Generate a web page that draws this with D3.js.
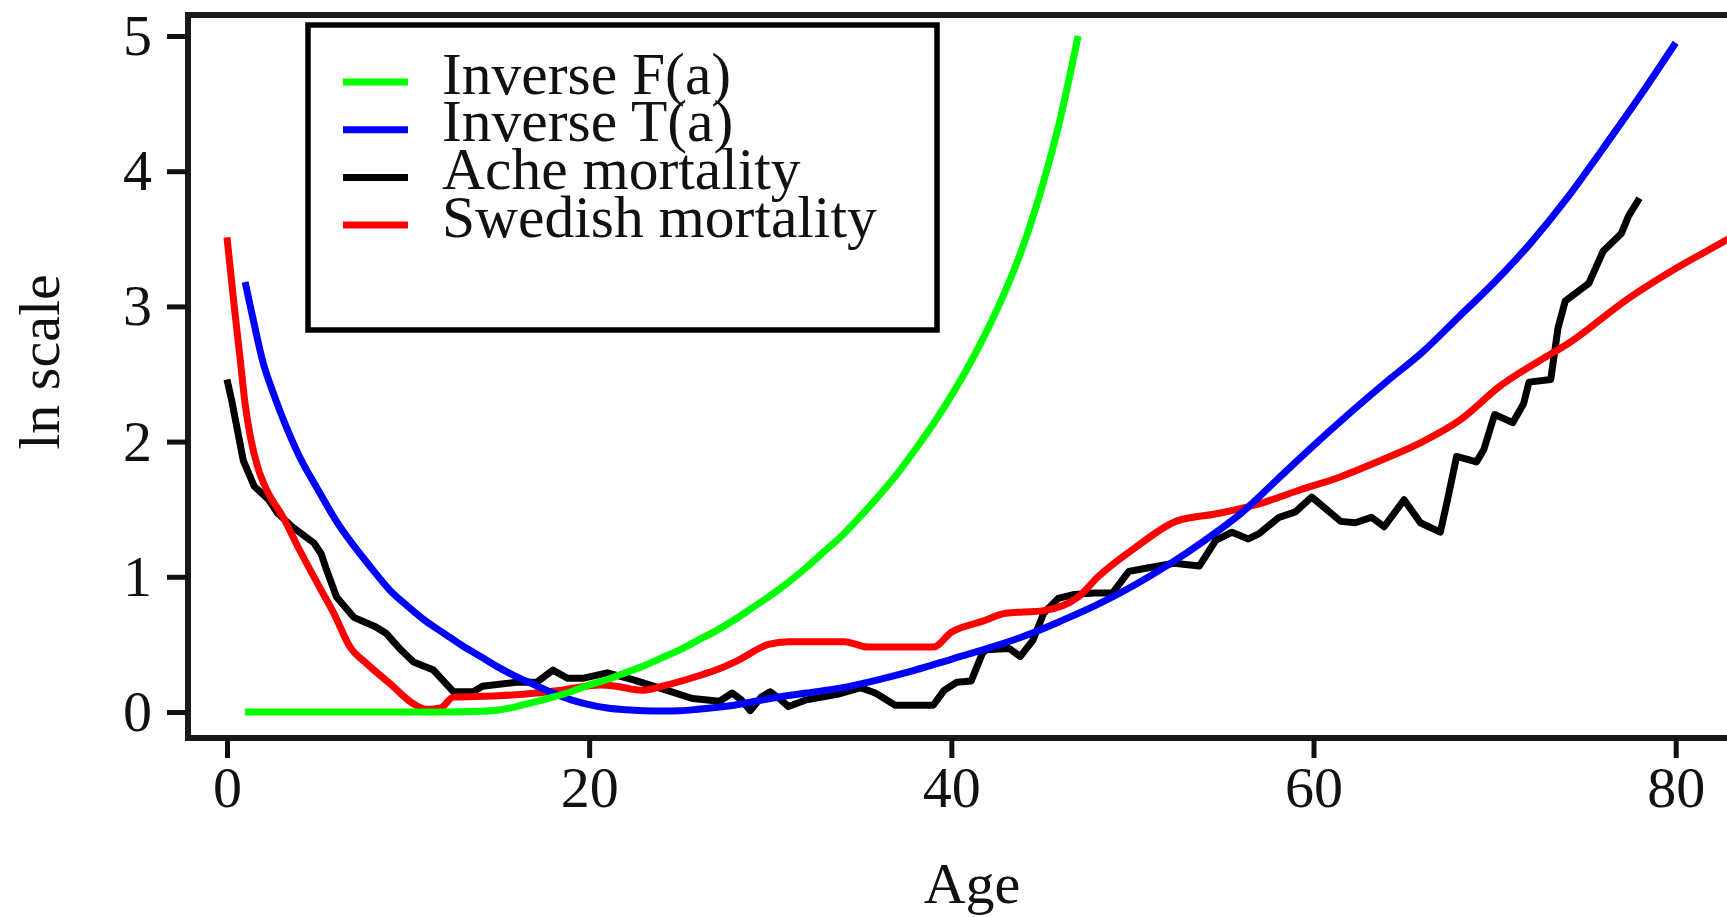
<!DOCTYPE html>
<html><head><meta charset="utf-8">
<script src="https://cdn.jsdelivr.net/npm/d3@7"></script>
<style>html,body{margin:0;padding:0;background:#fff;overflow:hidden}</style>
</head><body>
<svg id="chart" width="1727" height="917"></svg>
<script>
// ---- data ----
const xTicks = [0, 20, 40, 60, 80];
const yTicks = [0, 1, 2, 3, 4, 5];
const legendLabels = ["Inverse F(a)", "Inverse T(a)", "Ache mortality", "Swedish mortality"];
const legendColors = ["#00ff00", "#0000ff", "#000000", "#ff0000"];

const invFAge   = [1,5,10,12,14,15,16,17,18,19,20,21,22,23,24,25,26,27,28,29,30,31,32,33,34,35,36,37,38,39,40,41,42,43,44,45,46,47];
const invFValue = [0,0,0,0,0.005,0.015,0.04,0.075,0.11,0.15,0.2,0.24,0.29,0.34,0.4,0.46,0.53,0.6,0.68,0.77,0.86,0.96,1.07,1.19,1.31,1.45,1.6,1.76,1.94,2.13,2.34,2.57,2.83,3.12,3.46,3.88,4.38,5.0];

const invTAge   = [1,1.5,2,2.5,3,4,5,6,7,8,9,10,11,12,13,14,15,16,17,18,19,20,21,22,23,24,25,26,28,30,32,34,36,38,40,42,44,46,48,50,52,54,56,58,60,62,64,66,68,70,72,74,76,78,80];
const invTValue = [3.18,2.87,2.58,2.38,2.2,1.89,1.65,1.42,1.23,1.06,0.9,0.78,0.67,0.58,0.49,0.41,0.33,0.26,0.2,0.14,0.09,0.055,0.03,0.017,0.01,0.008,0.01,0.02,0.05,0.1,0.14,0.18,0.24,0.31,0.39,0.47,0.56,0.67,0.79,0.93,1.09,1.27,1.47,1.72,1.97,2.21,2.44,2.66,2.92,3.18,3.47,3.8,4.17,4.55,4.95];

const acheAge   = [0,0.25,0.9,1.5,2.3,2.8,3.6,4.8,5.2,5.5,6.05,7.0,8.2,8.8,9.6,10.3,11.4,12.5,13.6,14.1,16.0,17.1,18.0,18.8,19.7,21.0,22.4,24.3,25.7,27.2,27.9,28.4,28.9,29.5,30.0,30.5,31.0,32.0,33.7,35.0,35.8,36.9,39.0,39.6,40.3,41.1,41.7,41.9,43.2,43.8,44.5,45.1,45.9,46.8,47.9,48.9,49.8,50.6,52.3,53.7,54.6,55.5,56.4,57,58.1,59,59.9,61.5,62.3,63.2,63.9,65,65.9,67,67.4,67.9,69,69.4,70,71,71.6,71.9,73.1,73.5,73.9,75.2,76,77,77.4,78];
const acheValue = [2.46,2.31,1.86,1.67,1.57,1.47,1.37,1.25,1.17,1.05,0.85,0.70,0.63,0.58,0.46,0.37,0.31,0.15,0.15,0.19,0.22,0.22,0.31,0.25,0.25,0.29,0.24,0.16,0.1,0.08,0.14,0.09,0.01,0.11,0.15,0.1,0.04,0.09,0.13,0.18,0.14,0.05,0.05,0.16,0.22,0.23,0.43,0.46,0.47,0.41,0.53,0.73,0.84,0.87,0.88,0.88,1.04,1.06,1.1,1.08,1.27,1.33,1.28,1.32,1.44,1.48,1.59,1.41,1.40,1.44,1.37,1.57,1.40,1.33,1.57,1.89,1.85,1.94,2.2,2.14,2.28,2.44,2.46,2.84,3.04,3.17,3.41,3.54,3.67,3.8];

const sweAge   = [0,0.4,0.72,1,1.3,1.7,2.2,3.1,4,5,5.9,6.8,7.7,9,10.3,11,11.8,12.5,15,17.1,18.4,20.6,21.5,22.9,24,26.1,27,28.2,29.9,31,34.1,35.4,39,40,41.7,43,45.1,47,48.1,50.3,52.4,54.8,57,59.2,61.5,63.7,65.9,68.1,70.3,72.5,74,77.4,80,82.8,84.5];
const sweValue = [3.51,3.0,2.62,2.28,2.03,1.81,1.64,1.44,1.2,0.95,0.73,0.48,0.36,0.21,0.06,0.02,0.03,0.11,0.12,0.14,0.16,0.2,0.19,0.16,0.19,0.27,0.31,0.38,0.5,0.52,0.52,0.48,0.48,0.59,0.67,0.73,0.75,0.85,1.0,1.23,1.41,1.47,1.54,1.64,1.74,1.86,1.99,2.16,2.41,2.6,2.72,3.06,3.28,3.49,3.62];

// ---- drawing ----
const W = 1727, H = 917;
const font = "'Liberation Serif','Times New Roman',serif";
const plot = {left: 188, top: 15, right: 1754, bottom: 738};
const svg = d3.select("#chart");
svg.append("rect").attr("width", W).attr("height", H).attr("fill", "#fff");

const x = d3.scaleLinear().domain([0, 80]).range([227, 1675.7]);
const y = d3.scaleLinear().domain([0, 5]).range([712, 36]);

svg.append("defs").append("clipPath").attr("id", "clip")
  .append("rect").attr("x", plot.left).attr("y", plot.top)
  .attr("width", plot.right - plot.left).attr("height", plot.bottom - plot.top);

const zip = (a, v) => a.map((d, i) => [d, v[i]]);
const smooth = d3.line().x(d => x(d[0])).y(d => y(d[1])).curve(d3.curveMonotoneX);
const straight = d3.line().x(d => x(d[0])).y(d => y(d[1]));

const series = [
  {pts: zip(acheAge, acheValue), color: legendColors[2], gen: straight},
  {pts: zip(sweAge, sweValue), color: legendColors[3], gen: smooth},
  {pts: zip(invTAge, invTValue), color: legendColors[1], gen: smooth},
  {pts: zip(invFAge, invFValue), color: legendColors[0], gen: smooth}
];
const curves = svg.append("g").attr("clip-path", "url(#clip)");
series.forEach(s => {
  curves.append("path").attr("d", s.gen(s.pts)).attr("fill", "none")
    .attr("stroke", s.color).attr("stroke-width", 7)
    .attr("stroke-linejoin", "round").attr("stroke-linecap", "butt");
});

// box
svg.append("rect").attr("x", plot.left).attr("y", plot.top)
  .attr("width", plot.right - plot.left).attr("height", plot.bottom - plot.top)
  .attr("fill", "none").attr("stroke", "#1a1a1a").attr("stroke-width", 6);

// axes
const gx = svg.append("g").attr("transform", `translate(0,${plot.bottom})`)
  .call(d3.axisBottom(x).tickValues(xTicks).tickSize(20).tickPadding(8).tickFormat(d3.format("d")));
gx.select(".domain").remove();
gx.selectAll(".tick line").attr("stroke", "#111").attr("stroke-width", 5);
gx.selectAll(".tick text").attr("font-family", font).attr("font-size", 58).attr("fill", "#111");

const gy = svg.append("g").attr("transform", `translate(${plot.left},0)`)
  .call(d3.axisLeft(y).tickValues(yTicks).tickSize(21).tickPadding(15).tickFormat(d3.format("d")));
gy.select(".domain").remove();
gy.selectAll(".tick line").attr("stroke", "#111").attr("stroke-width", 5);
gy.selectAll(".tick text").attr("font-family", font).attr("font-size", 58).attr("fill", "#111");

// axis titles
svg.append("text").attr("x", 972).attr("y", 903).attr("text-anchor", "middle")
  .attr("font-family", font).attr("font-size", 58).attr("fill", "#111").text("Age");
svg.append("text").attr("transform", "translate(59,362) rotate(-90)").attr("text-anchor", "middle")
  .attr("font-family", font).attr("font-size", 58).attr("fill", "#111").text("ln scale");

// legend
const lg = svg.append("g");
lg.append("rect").attr("x", 308).attr("y", 25).attr("width", 629).attr("height", 305)
  .attr("fill", "#fff").attr("stroke", "#000").attr("stroke-width", 5.5);
legendLabels.forEach((lab, i) => {
  const ry = 82 + i * 47.7;
  lg.append("line").attr("x1", 343).attr("x2", 408).attr("y1", ry).attr("y2", ry)
    .attr("stroke", legendColors[i]).attr("stroke-width", 7);
  lg.append("text").attr("x", 442).attr("y", ry + 11.5)
    .attr("font-family", font).attr("font-size", 59.5).attr("fill", "#111").text(lab);
});
</script>
</body></html>
